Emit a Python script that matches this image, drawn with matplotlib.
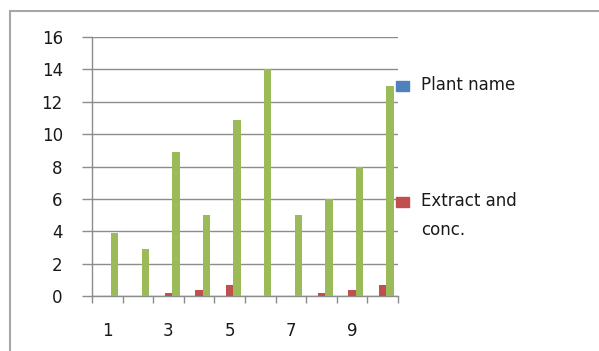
import numpy as np
import matplotlib
matplotlib.use("Agg")
import matplotlib.pyplot as plt
from matplotlib.patches import Rectangle

# chart data
categories = [1, 2, 3, 4, 5, 6, 7, 8, 9, 10]
plant_name = [0, 0, 0, 0, 0, 0, 0, 0, 0, 0]
extract_conc = [0, 0, 0.2, 0.4, 0.7, 0, 0, 0.2, 0.4, 0.7]
third_series = [3.9, 2.9, 8.9, 5, 10.9, 14, 5, 6, 8, 13]
series_labels = ["Plant name", "Extract and\nconc."]
colors = ["#4F81BD", "#C0504D", "#9BBB59"]
x_tick_labels = ["1", "3", "5", "7", "9"]
y_ticks = [0, 2, 4, 6, 8, 10, 12, 14, 16]

plt.rcParams['font.family'] = ['DejaVu Sans']

W, H = 599, 351
fig = plt.figure(figsize=(W / 100, H / 100), dpi=100)
ax = fig.add_axes([92 / W, 1 - 296 / H, (398 - 92) / W, (296 - 37) / H])

x = np.array(categories)
w = 0.24
for i, vals in enumerate([plant_name, extract_conc, third_series]):
    ax.bar(x + (i - 1) * w, vals, width=w, color=colors[i], zorder=3)

grey = "#8c8c8c"
txt = "#1a1a1a"
fs = 12
ax.set_xlim(0.5, 10.5)
ax.set_ylim(0, 16)
ax.set_yticks(y_ticks)
ax.yaxis.grid(True, color=grey, linewidth=1, zorder=0)
ax.tick_params(axis='y', length=7, width=1, color=grey, pad=14, labelsize=fs, labelcolor=txt)

ax.set_xticks([int(t) for t in x_tick_labels])
ax.set_xticklabels(x_tick_labels)
ax.set_xticks(np.arange(0.5, 11, 1), minor=True)
ax.tick_params(axis='x', which='major', length=0, pad=19, labelsize=fs, labelcolor=txt)
ax.tick_params(axis='x', which='minor', length=5, width=1, color=grey)

for s in ['top', 'right']:
    ax.spines[s].set_visible(False)
for s in ['left', 'bottom']:
    ax.spines[s].set_color(grey)
    ax.spines[s].set_linewidth(1)

# legend drawn to the right, overlapping the plot edge like the original
legend_rows = [86, 202]
for i, (lab, yy) in enumerate(zip(series_labels, legend_rows)):
    fig.patches.append(Rectangle((396 / W, 1 - (yy + 5) / H), 13 / W, 10 / H,
                                 transform=fig.transFigure, color=colors[i], zorder=5))
    fig.text(421 / W, 1 - (yy - 10) / H, lab, fontsize=fs, va='top',
             ha='left', color=txt, linespacing=1.75)

# outer chart border
fig.patches.append(Rectangle((10 / W, -0.1), 1.2, 1 - 11 / H + 0.1, transform=fig.transFigure,
                             fill=False, edgecolor="#a6a6a6", linewidth=1.5))

fig.savefig("out.png", dpi=100)
